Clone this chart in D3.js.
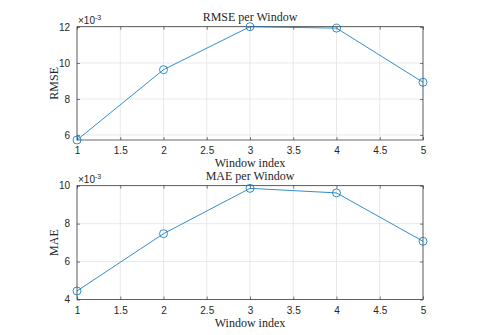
<!DOCTYPE html>
<html>
<head>
<meta charset="utf-8">
<script src="https://cdn.jsdelivr.net/npm/d3@7"></script>
<style>
body{margin:0;background:#fff}
svg{display:block}
.tick text{font-family:"Liberation Sans",Arial,sans-serif;font-size:10px;fill:#262626}
.ttl{font-family:"Liberation Serif","Times New Roman",serif;fill:#262626}
</style>
</head>
<body>
<div id="chart"></div>
<script>
// values (x1e-3)
var windows = [1,2,3,4,5]
var rmse = [5.72,9.63,12.02,11.94,8.93]
var mae = [4.45,7.47,9.86,9.62,7.07]
var xTicks = [1,1.5,2,2.5,3,3.5,4,4.5,5]
var rmseTicks = [6,8,10,12]
var maeTicks = [4,6,8,10]

var w = 479, h = 335
var lineColor = "#0072BD"
var axisColor = "#262626"

var svg = d3.select("#chart").append("svg").attr("width",w).attr("height",h)

function panel(vals,yDomain,yTicks,title,ylab,top,bottom){
    var left = 77, right = 423
    var x = d3.scaleLinear().domain([1,5]).range([left,right])
    var y = d3.scaleLinear().domain(yDomain).range([bottom,top])
    var g = svg.append("g")

    // grid
    g.selectAll(".gx").data(xTicks).enter().append("line")
        .attr("x1",function(d){return x(d)}).attr("x2",function(d){return x(d)})
        .attr("y1",top).attr("y2",bottom)
        .attr("stroke","#e3e3e3").attr("stroke-width",0.8)
    g.selectAll(".gy").data(yTicks).enter().append("line")
        .attr("x1",left).attr("x2",right)
        .attr("y1",function(d){return y(d)}).attr("y2",function(d){return y(d)})
        .attr("stroke","#e3e3e3").attr("stroke-width",0.8)

    // axes, ticks inside
    var xa = g.append("g").attr("transform","translate(0,"+bottom+")")
        .call(d3.axisBottom(x).tickValues(xTicks).tickSizeInner(-3).tickSizeOuter(0).tickPadding(7)
        .tickFormat(d3.format("")))
    var xt = g.append("g").attr("transform","translate(0,"+top+")")
        .call(d3.axisTop(x).tickValues(xTicks).tickSizeInner(-3).tickSizeOuter(0).tickFormat(""))
    var ya = g.append("g").attr("transform","translate("+left+",0)")
        .call(d3.axisLeft(y).tickValues(yTicks).tickSizeInner(-3).tickSizeOuter(0).tickPadding(7)
        .tickFormat(d3.format("d")))
    var yr = g.append("g").attr("transform","translate("+right+",0)")
        .call(d3.axisRight(y).tickValues(yTicks).tickSizeInner(-3).tickSizeOuter(0).tickFormat(""))
    ;[xa,xt,ya,yr].forEach(function(a){
        a.select(".domain").remove()
        a.selectAll(".tick line").attr("stroke",axisColor).attr("stroke-width",0.6)
    })
    g.append("rect").attr("x",left).attr("y",top).attr("width",right-left).attr("height",bottom-top)
        .attr("fill","none").attr("stroke",axisColor).attr("stroke-width",0.7)

    // data
    var line = d3.line().x(function(d,i){return x(windows[i])}).y(function(d){return y(d)})
    g.append("path").datum(vals).attr("d",line).attr("fill","none")
        .attr("stroke",lineColor).attr("stroke-width",0.8)
    g.selectAll(".pt").data(vals).enter().append("circle")
        .attr("cx",function(d,i){return x(windows[i])}).attr("cy",function(d){return y(d)})
        .attr("r",4).attr("fill","none").attr("stroke",lineColor).attr("stroke-width",0.8)

    // texts
    g.append("text").attr("class","ttl").attr("x",(left+right)/2).attr("y",top-6)
        .attr("text-anchor","middle").attr("font-size","12px").text(title)
    g.append("text").attr("class","ttl").attr("x",(left+right)/2).attr("y",bottom+27)
        .attr("text-anchor","middle").attr("font-size","12px").text("Window index")
    g.append("text").attr("class","ttl")
        .attr("transform","translate(58,"+(top+bottom)/2+") rotate(-90)")
        .attr("text-anchor","middle").attr("font-size","12px").text(ylab)
    var ex = g.append("text").attr("x",left+1).attr("y",top-3)
        .attr("font-family","Liberation Sans,Arial,sans-serif").attr("font-size","10px").attr("fill",axisColor)
    ex.append("tspan").text("\u00d710")
    ex.append("tspan").attr("dy",-4).attr("font-size","7px").text("-3")
}

panel(rmse,d3.extent(rmse),rmseTicks,"RMSE per Window","RMSE",26.7,140)
panel(mae,[4,10],maeTicks,"MAE per Window","MAE",185.7,299.5)
</script>
</body>
</html>
